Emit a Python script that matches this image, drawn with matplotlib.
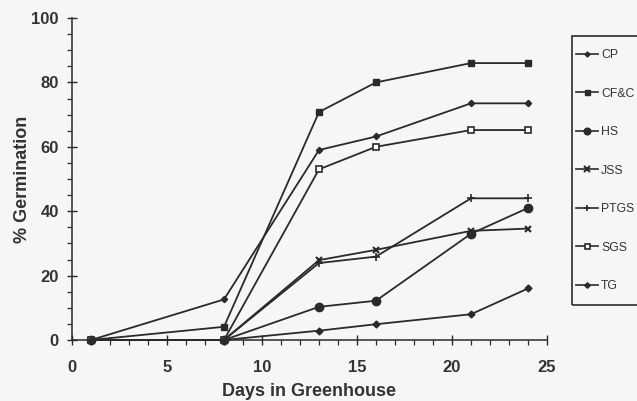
import matplotlib
matplotlib.use("Agg")
import matplotlib.pyplot as plt
from matplotlib.patches import Rectangle
from matplotlib.lines import Line2D
from matplotlib.ticker import MultipleLocator

days = [1, 8, 13, 16, 21, 24]
series_names = ["CP", "CF&C", "HS", "JSS", "PTGS", "SGS", "TG"]
cp = [0, 12.6, 59, 63.2, 73.5, 73.5]
cfc = [0, 4.1, 70.8, 80, 86, 86]
hs = [0, 0, 10.3, 12.2, 33, 41]
jss = [0, 0, 24.8, 28, 33.9, 34.6]
ptgs = [0, 0, 23.9, 25.9, 44, 44]
sgs = [0, 0, 53, 60, 65.2, 65.2]
tg = [0, 0, 2.9, 4.9, 8, 16]
values = [cp, cfc, hs, jss, ptgs, sgs, tg]

styles = [
    dict(marker="D", ms=3.2, mfc="#2a2a2a"),
    dict(marker="s", ms=4.5, mfc="#2a2a2a"),
    dict(marker="o", ms=6, mfc="#2a2a2a"),
    dict(marker="x", ms=5, mew=1.5),
    dict(marker="+", ms=6, mew=1.2),
    dict(marker="s", ms=4.5, mfc="white", mew=1.2),
    dict(marker="D", ms=3.5, mfc="#2a2a2a"),
]

col = "#2a2a2a"
txt = "#333333"
fig = plt.figure(figsize=(6.37, 4.01), dpi=100, facecolor="#f6f6f4")
W, H = 637, 401
ax = fig.add_axes([72 / W, 1 - 340 / H, 475 / W, 322 / H])
ax.set_facecolor("none")

for name, vals, st in zip(series_names, values, styles):
    ax.plot(days, vals, color=col, lw=1.3, mec=col, label=name, clip_on=False, **st)

ax.set_xlim(0, 25)
ax.set_ylim(0, 100)
ax.xaxis.set_major_locator(MultipleLocator(5))
ax.xaxis.set_minor_locator(MultipleLocator(1))
ax.yaxis.set_major_locator(MultipleLocator(20))
ax.yaxis.set_minor_locator(MultipleLocator(5))
for s in ["top", "right"]:
    ax.spines[s].set_visible(False)
for s in ["left", "bottom"]:
    ax.spines[s].set_color(col)
    ax.spines[s].set_linewidth(1.1)
ax.tick_params(which="major", direction="inout", length=7, width=1, color=col,
               labelsize=12, labelcolor=txt)
ax.tick_params(axis="y", which="major", pad=6)
ax.tick_params(axis="x", which="major", pad=11)
ax.tick_params(which="minor", direction="out", length=3.5, width=0.9, color=col)
for lab in ax.get_xticklabels() + ax.get_yticklabels():
    lab.set_fontfamily("Liberation Sans")
    lab.set_fontweight("bold")
ax.set_xlabel("Days in Greenhouse", fontsize=13, fontweight="bold", color=txt,
              family="Liberation Sans", labelpad=6)
ax.set_ylabel("% Germination", fontsize=13, fontweight="bold", color=txt,
              family="Liberation Sans", labelpad=0)

# legend box
fig.patches.append(Rectangle((572 / W, 1 - 305 / H), 80 / W, (305 - 35.7) / H,
                             transform=fig.transFigure, fill=False,
                             edgecolor=col, lw=1.2))
handles = []
for name, st in zip(series_names, styles):
    st2 = dict(st)
    st2["ms"] = st2["ms"] * 0.8
    handles.append(Line2D([0], [0], color=col, lw=1.2, mec=col, **st2))
fig.legend(handles, series_names, loc="upper left",
           bbox_to_anchor=(576 / W, 1 - 49 / H), frameon=False,
           prop=dict(family="Liberation Sans", size=8.8), labelcolor=txt,
           handlelength=1.8, handletextpad=0.25, labelspacing=2.17,
           borderpad=0, borderaxespad=0)

fig.savefig("out.png", dpi=100, facecolor=fig.get_facecolor())
